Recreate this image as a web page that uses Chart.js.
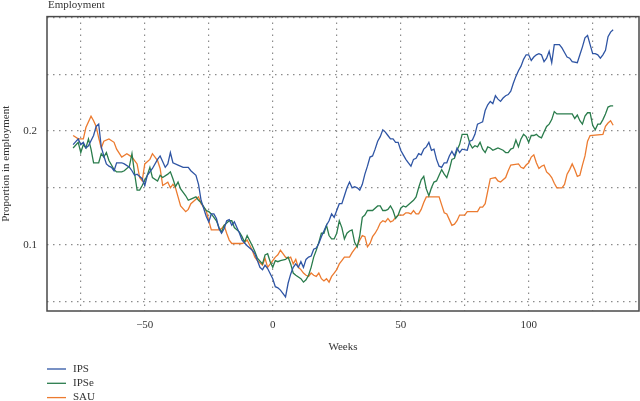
<!DOCTYPE html>
<html>
<head>
<meta charset="utf-8">
<script src="https://cdn.jsdelivr.net/npm/chart.js@4.4.1/dist/chart.umd.min.js"></script>
<style>
  html, body { margin: 0; padding: 0; background: #fff; }
  #wrap { width: 640px; height: 401px; }
</style>
</head>
<body>
<div id="wrap"><canvas id="employment_canvas" width="640" height="401"></canvas></div>
<script>
// Weeks relative to start of treatment, and proportion in employment per arm
const ipsWeeks = [-78,-76,-75,-74,-73,-72,-70,-69,-68,-67,-66,-65,-64,-63,-62,-61,-59,-58,-56,-55,-54,-53,-51,-50,-49,-47,-45,-44,-42,-41,-40,-39,-37,-35,-33,-32,-30,-29,-28,-26,-25,-24,-23,-22,-21,-20,-19,-18,-17,-16,-15,-14,-13,-12,-10,-9,-8,-7,-6,-5,-4,-3,-2,0,1,2,3,5,6,7,8,9,10,11,12,13,14,15,16,17,18,19,20,21,22,23,24,25,26,27,28,29,30,31,32,33,34,35,36,37,38,39,40,41,42,43,44,45,46,47,48,49,50,51,52,53,54,55,56,57,58,59,60,61,62,63,64,65,66,67,68,69,70,71,72,73,74,76,77,78,79,80,81,82,83,84,85,86,87,88,89,90,91,92,93,94,95,96,97,98,99,100,101,102,103,104,105,106,107,108,109,110,112,113,114,115,116,117,119,120,121,122,123,124,125,126,127,128,129,130,131,132,133];
const ipsValues = [0.188,0.193,0.188,0.190,0.185,0.187,0.196,0.204,0.206,0.186,0.178,0.171,0.169,0.168,0.165,0.172,0.172,0.171,0.168,0.165,0.161,0.162,0.158,0.152,0.161,0.167,0.175,0.178,0.168,0.171,0.181,0.172,0.170,0.168,0.168,0.165,0.161,0.153,0.139,0.125,0.120,0.127,0.127,0.123,0.114,0.110,0.114,0.121,0.122,0.117,0.120,0.115,0.110,0.104,0.099,0.097,0.095,0.092,0.086,0.080,0.078,0.082,0.079,0.070,0.063,0.062,0.060,0.054,0.066,0.074,0.080,0.083,0.080,0.085,0.080,0.087,0.089,0.090,0.096,0.097,0.101,0.107,0.112,0.117,0.121,0.127,0.124,0.130,0.136,0.136,0.143,0.150,0.155,0.150,0.151,0.150,0.148,0.153,0.162,0.169,0.177,0.178,0.184,0.191,0.195,0.201,0.199,0.196,0.193,0.193,0.190,0.190,0.183,0.179,0.175,0.172,0.169,0.175,0.176,0.180,0.179,0.184,0.186,0.190,0.183,0.184,0.175,0.169,0.168,0.172,0.172,0.178,0.182,0.178,0.185,0.181,0.184,0.183,0.191,0.192,0.197,0.206,0.207,0.208,0.218,0.223,0.226,0.224,0.231,0.228,0.226,0.229,0.231,0.232,0.235,0.242,0.248,0.253,0.257,0.263,0.267,0.267,0.262,0.265,0.267,0.268,0.267,0.261,0.264,0.270,0.260,0.276,0.276,0.273,0.269,0.265,0.264,0.261,0.260,0.267,0.274,0.282,0.284,0.276,0.268,0.268,0.267,0.264,0.267,0.271,0.283,0.287,0.289];

const ipseWeeks = [-78,-76,-75,-74,-73,-72,-71,-70,-68,-67,-66,-65,-64,-63,-62,-61,-59,-58,-56,-55,-54,-53,-52,-51,-49,-48,-47,-45,-44,-43,-41,-40,-39,-38,-37,-36,-34,-33,-32,-30,-29,-28,-26,-25,-24,-22,-21,-20,-19,-17,-16,-15,-13,-12,-11,-10,-8,-7,-6,-4,-3,-2,-1,0,1,2,3,5,6,7,8,9,11,12,13,14,15,16,17,18,19,20,21,22,23,24,25,26,27,28,29,30,31,32,33,34,35,36,37,39,41,42,43,44,45,46,47,48,49,50,51,52,54,55,56,57,58,59,60,61,62,63,64,65,66,67,68,69,70,71,72,73,74,76,77,78,79,80,81,82,83,84,85,86,87,88,90,91,92,93,94,95,96,97,98,99,100,101,102,103,104,105,106,107,108,109,110,111,117,118,119,120,121,122,123,124,125,126,127,128,129,130,131,132,133];
const ipseValues = [0.185,0.190,0.181,0.188,0.185,0.193,0.184,0.172,0.172,0.180,0.177,0.181,0.174,0.170,0.166,0.164,0.164,0.165,0.169,0.180,0.163,0.148,0.148,0.152,0.161,0.168,0.159,0.156,0.161,0.159,0.162,0.164,0.158,0.151,0.155,0.149,0.143,0.139,0.140,0.142,0.139,0.137,0.130,0.129,0.127,0.121,0.115,0.111,0.117,0.121,0.121,0.115,0.111,0.107,0.102,0.108,0.099,0.094,0.088,0.083,0.091,0.092,0.085,0.080,0.086,0.085,0.086,0.087,0.089,0.083,0.075,0.073,0.070,0.067,0.069,0.073,0.080,0.089,0.095,0.102,0.110,0.110,0.117,0.108,0.105,0.105,0.110,0.121,0.115,0.105,0.110,0.112,0.113,0.102,0.098,0.108,0.124,0.126,0.130,0.130,0.134,0.134,0.130,0.130,0.131,0.134,0.130,0.123,0.126,0.132,0.134,0.133,0.137,0.139,0.142,0.150,0.157,0.160,0.149,0.143,0.150,0.155,0.156,0.161,0.166,0.162,0.159,0.166,0.175,0.176,0.183,0.188,0.197,0.197,0.189,0.185,0.187,0.186,0.190,0.184,0.181,0.186,0.185,0.183,0.184,0.185,0.183,0.181,0.181,0.184,0.185,0.192,0.186,0.193,0.197,0.195,0.190,0.196,0.196,0.197,0.195,0.194,0.199,0.204,0.206,0.210,0.217,0.215,0.215,0.211,0.214,0.209,0.206,0.213,0.216,0.216,0.205,0.201,0.206,0.206,0.210,0.215,0.221,0.222,0.222];

const sauWeeks = [-78,-76,-74,-73,-71,-70,-69,-68,-67,-66,-64,-62,-61,-59,-57,-55,-53,-52,-51,-50,-48,-47,-45,-44,-43,-41,-40,-39,-38,-37,-36,-34,-33,-32,-30,-29,-28,-26,-25,-24,-21,-20,-19,-18,-17,-16,-12,-11,-10,-8,-7,-6,-4,-3,-2,0,1,2,3,4,5,6,7,8,9,10,11,12,13,14,15,16,17,18,19,20,21,22,23,24,25,26,27,28,30,31,32,33,34,35,36,37,38,39,40,41,42,43,44,45,46,47,48,49,51,52,53,54,55,56,57,58,59,60,65,66,67,68,69,70,71,72,73,75,76,80,81,82,83,84,85,87,88,89,90,91,92,93,96,97,98,99,100,101,102,103,104,105,106,107,108,109,110,111,113,114,115,116,117,118,119,120,121,122,123,124,129,130,131,132,133];
const sauValues = [0.196,0.193,0.193,0.203,0.213,0.209,0.204,0.194,0.185,0.191,0.193,0.190,0.184,0.177,0.180,0.177,0.171,0.159,0.156,0.171,0.175,0.180,0.174,0.167,0.152,0.155,0.150,0.153,0.150,0.142,0.134,0.129,0.131,0.136,0.140,0.142,0.136,0.130,0.121,0.113,0.113,0.114,0.117,0.110,0.104,0.101,0.101,0.102,0.104,0.095,0.089,0.086,0.082,0.088,0.080,0.086,0.089,0.091,0.095,0.092,0.089,0.088,0.089,0.083,0.087,0.080,0.078,0.075,0.073,0.072,0.075,0.073,0.072,0.075,0.070,0.068,0.070,0.067,0.072,0.075,0.078,0.083,0.086,0.089,0.089,0.093,0.096,0.099,0.104,0.108,0.107,0.098,0.101,0.107,0.110,0.114,0.119,0.121,0.120,0.123,0.120,0.121,0.124,0.126,0.126,0.128,0.128,0.127,0.130,0.127,0.127,0.131,0.137,0.142,0.142,0.135,0.128,0.127,0.122,0.117,0.118,0.121,0.126,0.126,0.129,0.129,0.133,0.133,0.136,0.147,0.158,0.159,0.156,0.155,0.157,0.159,0.165,0.170,0.171,0.168,0.167,0.170,0.172,0.177,0.179,0.172,0.167,0.169,0.170,0.164,0.162,0.159,0.154,0.150,0.150,0.153,0.162,0.166,0.171,0.166,0.160,0.161,0.170,0.178,0.191,0.196,0.197,0.204,0.207,0.209,0.205];

const seriesLabels = ['IPS', 'IPSe', 'SAU'];
const seriesColors = ['#2f55a4', '#2a7c4c', '#ec7b30'];
const labeledWeeks = [-50, 0, 50, 100];
const labeledProportions = [0.1, 0.2];

function to_points(weeks, values) {
    return weeks.map((w, i) => ({ x: w, y: values[i] }));
}

const FONT = 'Liberation Serif';
Chart.defaults.font.family = FONT;
Chart.defaults.font.size = 11;
Chart.defaults.color = '#333';

// Draws the frame, the chart title, the x axis title and the vertical legend
const decorations = {
    id: 'decorations',
    afterDraw(chart) {
        const { ctx, chartArea } = chart;
        ctx.save();
        ctx.strokeStyle = '#4a4a4a';
        ctx.lineWidth = 1.5;
        ctx.strokeRect(chartArea.left, chartArea.top, chartArea.right - chartArea.left, chartArea.bottom - chartArea.top);

        ctx.fillStyle = '#333';
        ctx.font = '11px "' + FONT + '"';
        ctx.textBaseline = 'alphabetic';
        ctx.textAlign = 'left';
        ctx.fillText('Employment', chartArea.left + 1, 7.5);

        ctx.textAlign = 'center';
        ctx.textBaseline = 'middle';
        ctx.fillText('Weeks', (chartArea.left + chartArea.right) / 2, 347);

        chart.data.datasets.forEach((ds, i) => {
            const y = 369 + i * 14.3;
            ctx.strokeStyle = ds.borderColor;
            ctx.lineWidth = 1.3;
            ctx.beginPath();
            ctx.moveTo(47, y);
            ctx.lineTo(66, y);
            ctx.stroke();
            ctx.textAlign = 'left';
            ctx.fillText(ds.label, 73, y);
        });
        ctx.restore();
    }
};

const context = document.getElementById('employment_canvas').getContext('2d');

new Chart(context, {
    type: 'line',
    data: {
        datasets: [
            { label: seriesLabels[0], data: to_points(ipsWeeks, ipsValues), borderColor: seriesColors[0] },
            { label: seriesLabels[1], data: to_points(ipseWeeks, ipseValues), borderColor: seriesColors[1] },
            { label: seriesLabels[2], data: to_points(sauWeeks, sauValues), borderColor: seriesColors[2] }
        ]
    },
    options: {
        responsive: false,
        animation: false,
        layout: { padding: { top: 15, right: 1, left: 0, bottom: 0 } },
        elements: {
            point: { radius: 0 },
            line: { borderWidth: 1.3, tension: 0, fill: false }
        },
        plugins: {
            legend: { display: false },
            title: { display: false },
            tooltip: { enabled: false }
        },
        scales: {
            x: {
                type: 'linear',
                min: -88.2,
                max: 143.1,
                afterFit: (scale) => { scale.height = 90; },
                border: { display: false, dash: [1.5, 4.5] },
                grid: { color: '#8c8c8c', lineWidth: 1.2, drawTicks: false },
                ticks: {
                    stepSize: 25,
                    includeBounds: false,
                    maxRotation: 0,
                    autoSkip: false,
                    padding: 8,
                    color: '#333',
                    callback: (v) => labeledWeeks.includes(v) ? (v < 0 ? '\u2212' + Math.abs(v) : String(v)) : ''
                }
            },
            y: {
                type: 'linear',
                min: 0.0416,
                max: 0.3006,
                afterFit: (scale) => { scale.width = 47; },
                border: { display: false, dash: [1.5, 4.5] },
                grid: { color: '#8c8c8c', lineWidth: 1.2, drawTicks: false },
                title: {
                    display: true,
                    text: 'Proportion in employment',
                    padding: { top: 0, bottom: 0 },
                    color: '#333'
                },
                ticks: {
                    stepSize: 0.05,
                    includeBounds: false,
                    autoSkip: false,
                    padding: 10,
                    color: '#333',
                    callback: (v) => {
                        const r = Math.round(v * 100) / 100;
                        return labeledProportions.includes(r) ? String(r) : '';
                    }
                }
            }
        }
    },
    plugins: [decorations]
});
</script>
</body>
</html>
